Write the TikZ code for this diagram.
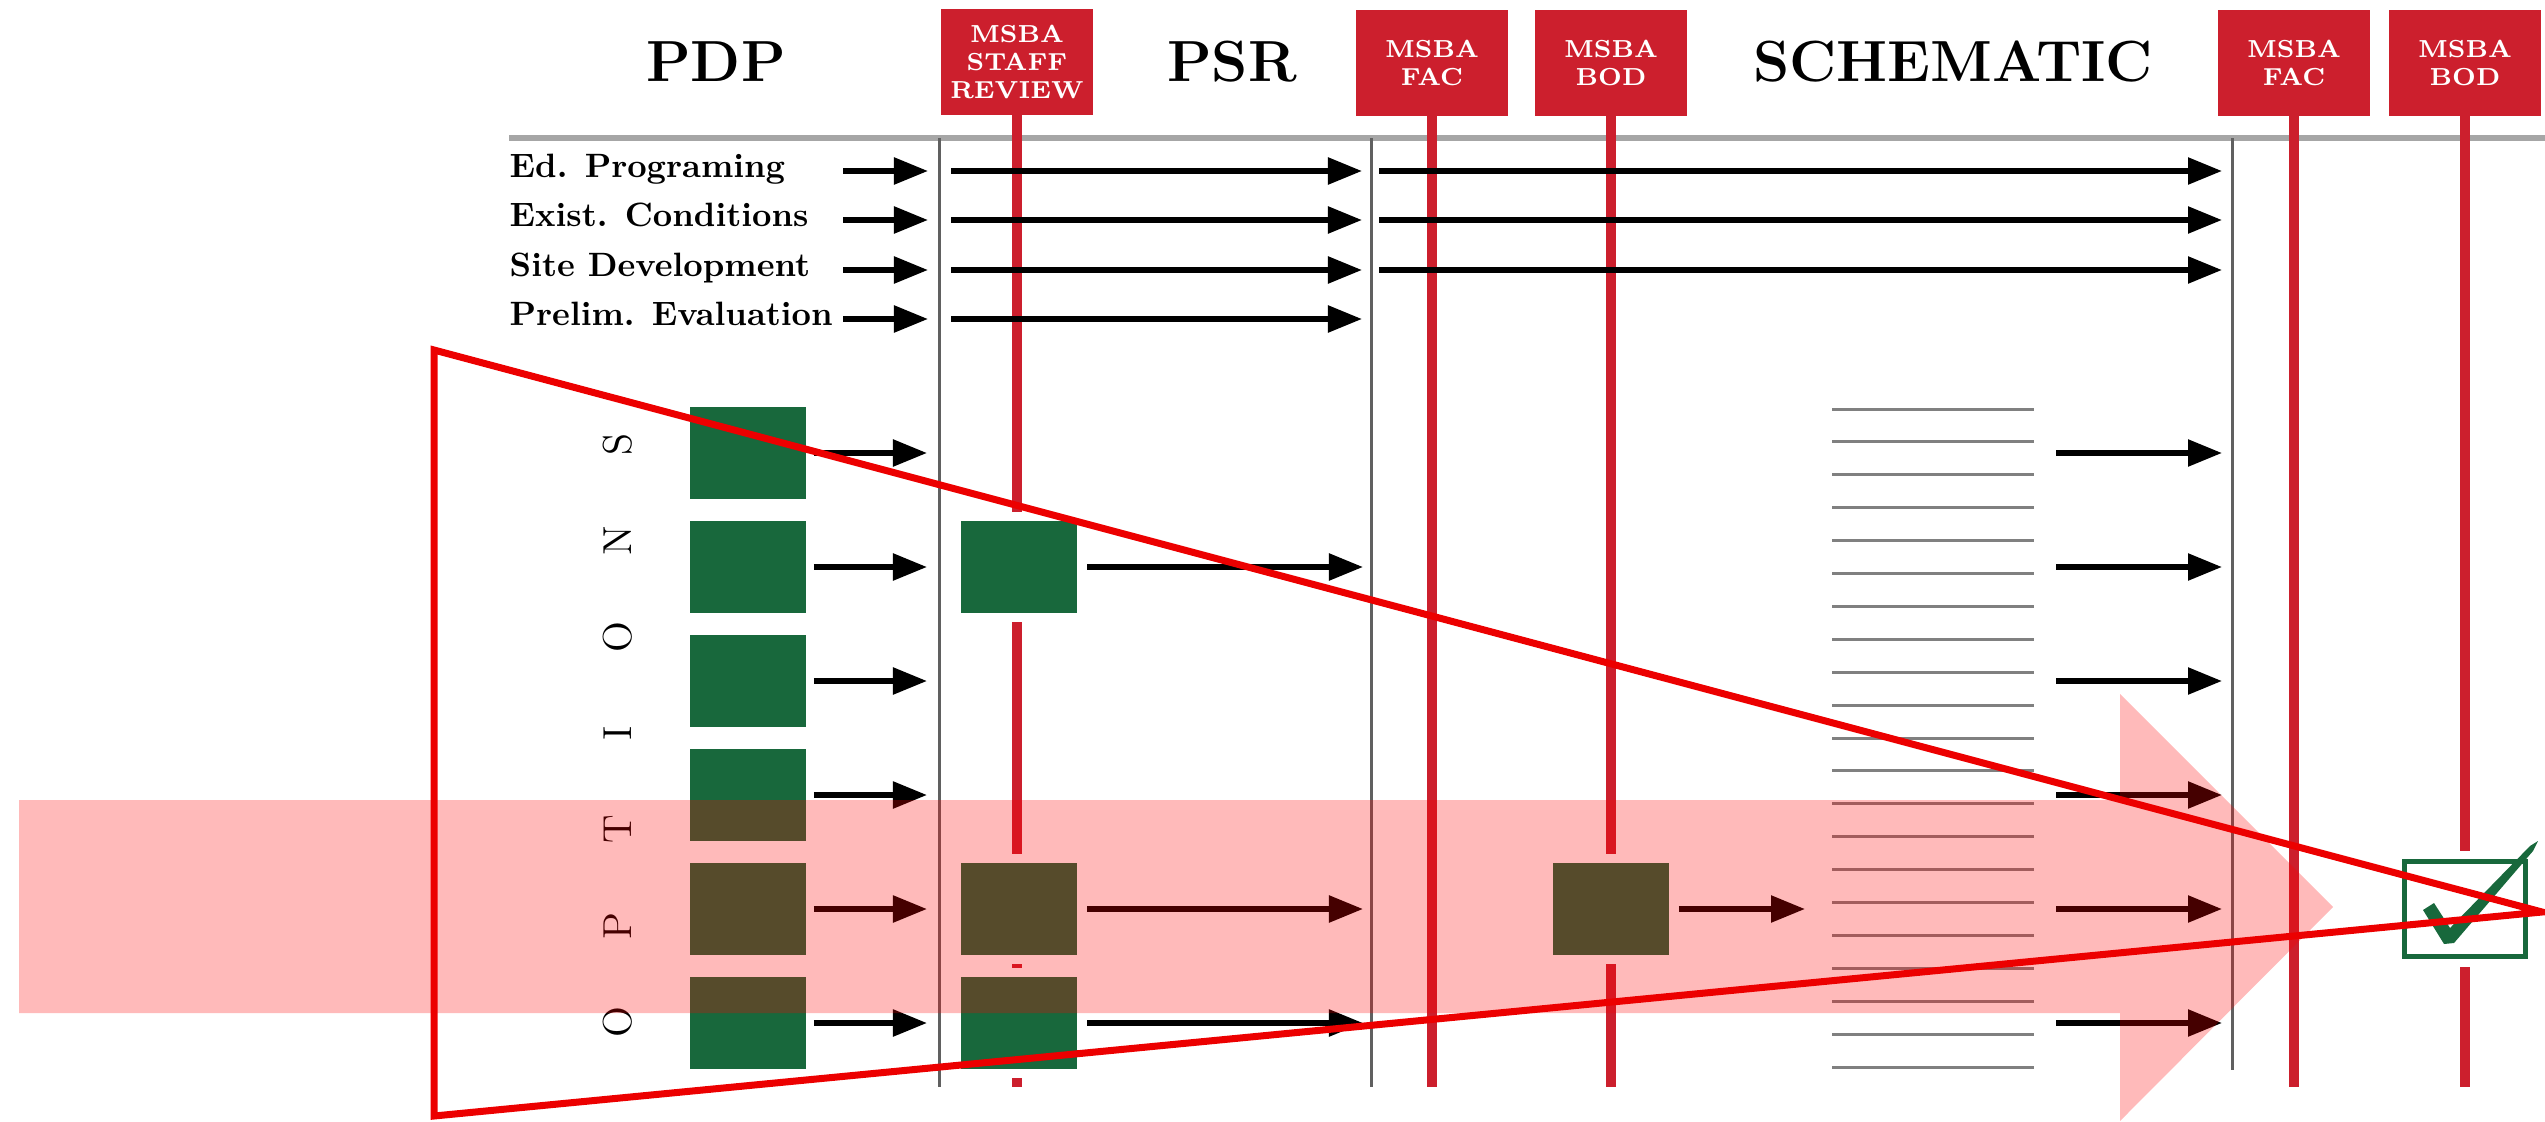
\documentclass[tikz,border=0pt]{standalone}
\usepackage{tikz}
\usetikzlibrary{arrows.meta,positioning,calc}

\definecolor{msbared}{RGB}{204,31,45}
\definecolor{optgreen}{RGB}{24,104,60}
\definecolor{funnelred}{RGB}{236,0,0}

\begin{document}
\begin{tikzpicture}[
  x=0.01cm, y=-0.01cm,
  >={Triangle[length=0.34cm,width=0.26cm]},
  phase/.style={inner sep=0pt, font=\fontsize{16.5}{18}\selectfont\bfseries},
  msba/.style={rectangle, fill=msbared, text=white, minimum width=1.51cm,
               minimum height=1.05cm, inner sep=0pt, align=center,
               font=\fontsize{7}{8}\selectfont\bfseries},
  msbaline/.style={msbared, line width=0.095cm},
  headline/.style={gray!70, line width=0.06cm},
  divider/.style={gray!75!black, line width=0.03cm},
  task/.style={anchor=base west, inner sep=0pt, font=\fontsize{9.6}{11}\selectfont\bfseries},
  flow/.style={->, line width=0.055cm},
  optbox/.style={rectangle, fill=optgreen, minimum width=1.16cm, minimum height=0.92cm,
                 inner sep=0pt, preaction={draw=white, line width=0.18cm}},
  checkbox/.style={rectangle, draw=optgreen, line width=0.05cm, fill=white,
                   minimum width=1.2cm, minimum height=0.95cm, inner sep=0pt,
                   preaction={draw=white, line width=0.2cm}},
  optletter/.style={rotate=90, inner sep=0pt, font=\fontsize{11.5}{12}\selectfont},
  schemline/.style={black!50, line width=0.03cm},
  funnel/.style={draw=funnelred, line width=0.07cm, line join=miter}
]
  \useasboundingbox (0,0) rectangle (2545,1121);

  % phases and reviews
  \node[phase] (pdp) at (716,62) {PDP};
  \node[phase] (psr) at (1232,62) {PSR};
  \node[phase] (schem) at (1953,62) {SCHEMATIC};

  \coordinate (hl) at (509,138);
  \coordinate (base) at (0,1087);
  \coordinate (div1) at (939,138);
  \coordinate (div2) at (1371,138);
  \coordinate (div3) at (2232,138);
  \draw[headline] (hl) -- (hl -| 2545,0);
  \draw[divider] (div1) -- (div1 |- base);
  \draw[divider] (div2) -- (div2 |- base);
  \draw[divider] (div3) -- ++(0,932);

  \node[msba] (staff) at (1017,62) {MSBA\\STAFF\\REVIEW};
  \node[msba] (fac1) at (1432,63) {MSBA\\FAC};
  \node[msba] (bod1) at (1611,63) {MSBA\\BOD};
  \node[msba] (fac2) at (2294,63) {MSBA\\FAC};
  \node[msba] (bod2) at (2465,63) {MSBA\\BOD};
  \foreach \m in {staff,fac1,bod1,fac2,bod2}
    \draw[msbaline] (\m.south) -- (\m.south |- base);

  % studies
  \foreach \y/\t [count=\i] in {171/Ed. Programing, 220/Exist. Conditions,
                                270/Site Development, 319/Prelim. Evaluation} {
    \node[task] (task\i) at (509,{\y+6}) {\t};
    \coordinate (pa\i) at (843,\y);
    \draw[flow, shorten >=0.11cm] (pa\i) -- (div1 |- pa\i);
    \draw[flow, shorten <=0.12cm, shorten >=0.09cm] (div1 |- pa\i) -- (div2 |- pa\i);
    \ifnum\i<4
      \draw[flow, shorten <=0.08cm, shorten >=0.10cm] (div2 |- pa\i) -- (div3 |- pa\i);
    \fi
  }

  % options
  \foreach \l [count=\i] in {O,P,T,I,O,N,S}
    \node[optletter] (opt\i) at (618,{1022-96.3*(\i-1)}) {\l};

  \foreach \k in {0,...,20}
    \draw[schemline] (1832,{409+32.9*\k}) -- (2034,{409+32.9*\k});

  \foreach \y [count=\i] in {453,567,681,795,909,1023} {
    \node[optbox] (g1\i) at (748,\y) {};
    \draw[flow, shorten <=0.07cm, shorten >=0.12cm] (g1\i.east) -- (div1 |- g1\i);
    \coordinate (sa\i) at (2056,\y);
    \draw[flow, shorten >=0.10cm] (sa\i) -- (div3 |- sa\i);
  }
  \foreach \i in {2,5,6} {
    \node[optbox, right=1.53cm of g1\i] (g2\i) {};
    \draw[flow, shorten <=0.1cm, shorten >=0.08cm] (g2\i.east) -- (div2 |- g2\i);
  }
  \node[optbox] (g3) at (bod1 |- g15) {};
  \coordinate (ba) at (1805,909);
  \draw[flow, shorten <=0.09cm] (g3.east) -- (ba);

  \node[checkbox] (done) at (bod2 |- g15) {};
  \fill[optgreen] (2423,910) -- (2434,903) -- (2450,928) -- (2530,846) -- (2538,841)
    -- (2533,851) -- (2454,943) -- (2444,944) -- cycle;

  % preferred option and funnel
  \fill[red, opacity=0.27] (19,800) -- (2120,800) -- (2120,694) -- (2333,907)
    -- (2120,1121) -- (2120,1013) -- (19,1013) -- cycle;
  \draw[funnel] (434,350) -- (2542,912) -- (434,1116) -- cycle;
\end{tikzpicture}
\end{document}
